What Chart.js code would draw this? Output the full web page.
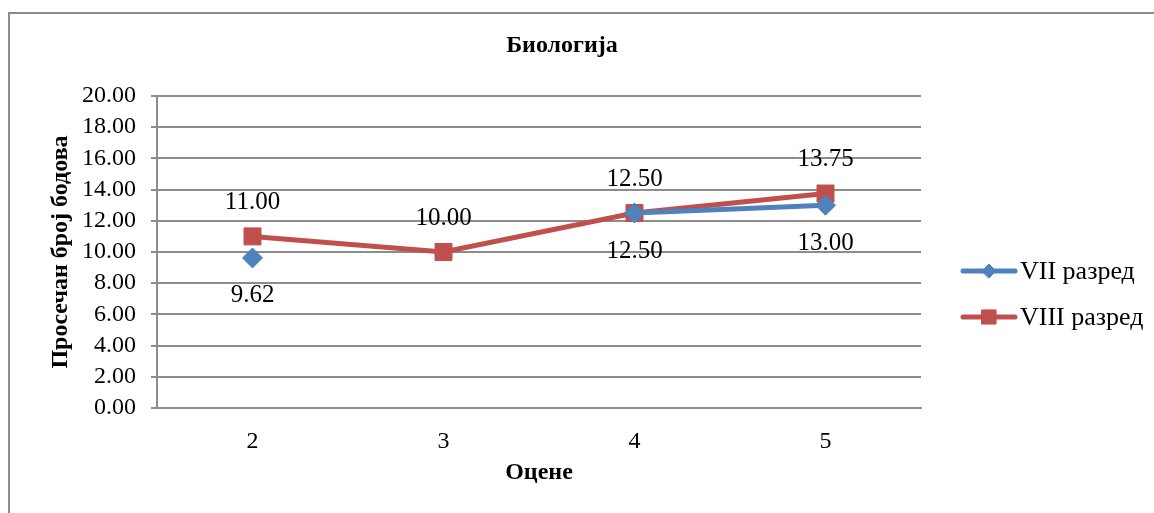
<!DOCTYPE html>
<html>
<head>
<meta charset="utf-8">
<script src="https://cdn.jsdelivr.net/npm/chart.js@4/dist/chart.umd.min.js"></script>
<style>
  html, body { margin: 0; padding: 0; background: #fff; }
  #wrap { width: 1154px; height: 513px; position: relative; }
</style>
</head>
<body>
<div id="wrap"><canvas id="chart"></canvas></div>
<script>
// chart data
const chartTitle = 'Биологија';
const grades = ['2', '3', '4', '5'];
const seventhLabel = 'VII разред';
const seventhScores = [9.62, null, 12.50, 13.00];
const eighthLabel = 'VIII разред';
const eighthScores = [11.00, 10.00, 12.50, 13.75];
const yTitle = 'Просечан број бодова';
const xTitle = 'Оцене';

const SERIF = '"Liberation Serif", "Times New Roman", serif';
const BLUE = '#4F81BD';
const RED = '#C0504D';
const GRID = '#8c8c8c';

// value labels: VIII above the point, VII below
const valueLabels = {
    id: 'valueLabels',
    afterDatasetsDraw(chart) {
        const ctx = chart.ctx;
        ctx.save();
        ctx.font = '25px ' + SERIF;
        ctx.fillStyle = '#000';
        ctx.textAlign = 'center';
        ctx.textBaseline = 'middle';
        chart.data.datasets.forEach((ds, i) => {
            const meta = chart.getDatasetMeta(i);
            const dy = i === 0 ? 38 : -34;
            meta.data.forEach((pt, j) => {
                const v = ds.data[j];
                if (v === null) return;
                ctx.fillText(v.toFixed(2), pt.x, pt.y + dy);
            });
        });
        ctx.restore();
    }
};

// frame, title and legend drawn by hand so they sit where the original has them
const decor = {
    id: 'decor',
    afterDraw(chart) {
        const ctx = chart.ctx;
        ctx.save();
        ctx.strokeStyle = '#8c8c8c';
        ctx.lineWidth = 2;
        ctx.beginPath();
        ctx.moveTo(9, 520);
        ctx.lineTo(9, 13);
        ctx.lineTo(1160, 13);
        ctx.stroke();

        ctx.fillStyle = '#000';
        ctx.textAlign = 'center';
        ctx.textBaseline = 'middle';
        ctx.font = 'bold 24px ' + SERIF;
        ctx.fillText(chartTitle, 562, 46);

        ctx.textAlign = 'left';
        ctx.font = '26px ' + SERIF;
        chart.data.datasets.forEach((ds, i) => {
            const y = 271 + i * 46;
            ctx.strokeStyle = ds.borderColor;
            ctx.lineWidth = 5;
            ctx.lineCap = 'round';
            ctx.beginPath();
            ctx.moveTo(963, y);
            ctx.lineTo(1015, y);
            ctx.stroke();
            ctx.fillStyle = ds.backgroundColor;
            ctx.lineWidth = 1;
            Chart.helpers.drawPoint(ctx, {
                pointStyle: ds.pointStyle,
                radius: i === 0 ? 7 : 10,
                borderWidth: 1
            }, 989, y);
            ctx.fillStyle = '#000';
            ctx.fillText(ds.label, 1020, y + 1);
        });
        ctx.restore();
    }
};

new Chart(document.getElementById('chart'), {
    type: 'line',
    data: {
        labels: grades,
        datasets: [{
            label: seventhLabel,
            data: seventhScores,
            borderColor: BLUE,
            backgroundColor: BLUE,
            borderWidth: 5,
            pointStyle: 'rectRot',
            pointRadius: 10,
            pointHoverRadius: 10,
            pointBorderWidth: 1,
            tension: 0
        }, {
            label: eighthLabel,
            data: eighthScores,
            borderColor: RED,
            backgroundColor: RED,
            borderWidth: 5,
            pointStyle: 'rect',
            pointRadius: 12,
            pointHoverRadius: 12,
            pointBorderWidth: 1,
            tension: 0
        }]
    },
    options: {
        responsive: true,
        maintainAspectRatio: false,
        animation: false,
        layout: {
            padding: { left: 10, right: 233, top: 96, bottom: 10 }
        },
        scales: {
            x: {
                offset: true,
                afterFit: (scale) => { scale.height = 95; },
                grid: { display: false, drawTicks: false, offset: true },
                border: { display: true, color: GRID, width: 2 },
                ticks: {
                    color: '#000',
                    font: { family: SERIF, size: 24 },
                    padding: 19
                },
                title: {
                    display: true,
                    text: xTitle,
                    color: '#000',
                    font: { family: SERIF, size: 24, weight: 'bold' },
                    padding: { top: 0, bottom: 16 }
                }
            },
            y: {
                min: 0,
                max: 20,
                afterFit: (scale) => { scale.width = 147; },
                grid: { color: GRID, lineWidth: 2, tickLength: 6, drawTicks: true },
                border: { display: true, color: GRID, width: 2 },
                ticks: {
                    stepSize: 2,
                    autoSkip: false,
                    color: '#000',
                    font: { family: SERIF, size: 24 },
                    padding: 15,
                    callback: (v) => v.toFixed(2)
                },
                title: {
                    display: true,
                    text: yTitle,
                    color: '#000',
                    font: { family: SERIF, size: 24, weight: 'bold' },
                    padding: { top: 36, bottom: 0 }
                }
            }
        },
        plugins: {
            legend: { display: false },
            title: { display: false },
            tooltip: { enabled: false }
        }
    },
    plugins: [valueLabels, decor]
});
</script>
</body>
</html>
